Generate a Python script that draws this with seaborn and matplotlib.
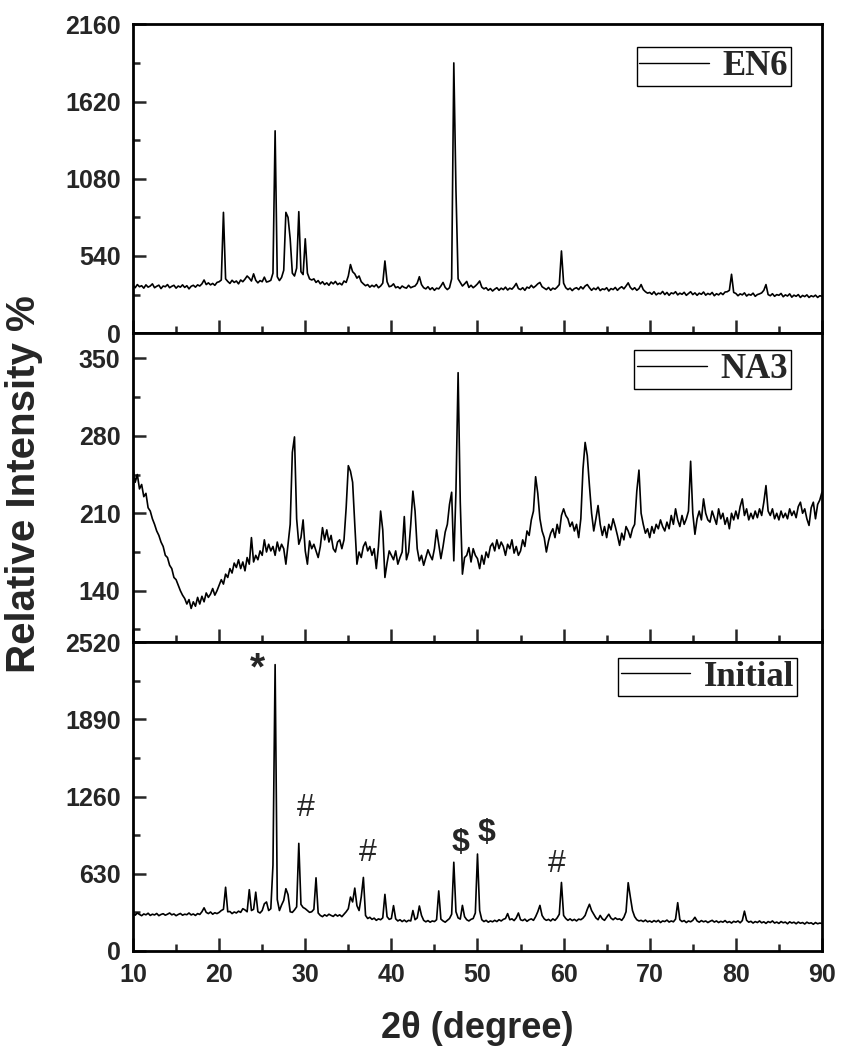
import numpy as np
import pandas as pd
import matplotlib
matplotlib.use('Agg')
import matplotlib.pyplot as plt
import seaborn as sns
from matplotlib.ticker import MultipleLocator

# --- data (0.25 deg steps, 10..90) ---
two_theta = np.linspace(10, 90, 321)

en6_counts = [
    # 10-20
    335, 318, 340, 325, 332, 315, 338, 322, 330, 345, 318, 328, 336, 312, 330, 325, 340, 318, 328, 335,
    315, 330, 322, 338, 320, 332, 310, 328, 335, 322, 338, 330, 345, 372, 340, 352, 338, 348, 335, 355,
    # 20-30
    360, 372, 845, 380, 362, 348, 370, 355, 365, 345, 372, 360, 378, 400, 385, 365, 415, 370, 352, 368,
    360, 392, 358, 362, 370, 420, 1415, 395, 368, 390, 440, 845, 810, 660, 420, 400, 455, 850, 430, 410,
    # 30-40
    660, 420, 380, 372, 380, 355, 368, 345, 360, 340, 352, 335, 358, 345, 362, 340, 350, 338, 365, 355,
    400, 480, 430, 415, 385, 400, 360, 345, 332, 340, 322, 335, 325, 340, 318, 330, 350, 505, 360, 325,
    # 40-50
    330, 345, 318, 325, 312, 330, 320, 315, 335, 318, 325, 330, 350, 395, 340, 318, 310, 325, 305, 318,
    300, 315, 310, 330, 355, 320, 305, 318, 380, 1890, 1000, 380, 355, 330, 345, 362, 320, 335, 318, 330,
    # 50-60
    345, 365, 322, 310, 318, 300, 312, 295, 308, 318, 300, 315, 305, 322, 302, 315, 308, 325, 348, 312,
    305, 318, 300, 322, 315, 335, 318, 330, 345, 355, 325, 315, 305, 320, 300, 315, 308, 322, 340, 575,
    # 60-70
    350, 318, 305, 315, 298, 312, 318, 305, 325, 310, 330, 340, 318, 300, 315, 305, 322, 298, 310, 305,
    318, 295, 312, 305, 320, 300, 315, 325, 310, 330, 352, 320, 305, 318, 300, 312, 340, 305, 290, 280,
    # 70-80
    285, 272, 290, 268, 280, 275, 292, 270, 285, 265, 282, 276, 290, 268, 280, 272, 286, 265, 278, 290,
    270, 282, 265, 280, 272, 288, 266, 278, 270, 285, 262, 276, 268, 282, 270, 288, 290, 300, 412, 285,
    # 80-90
    278, 262, 275, 268, 282, 260, 272, 266, 280, 258, 270, 275, 282, 300, 340, 270, 262, 276, 258, 270,
    265, 278, 255, 268, 260, 275, 252, 266, 258, 270, 250, 264, 256, 268, 250, 262, 255, 266, 250, 262,
    258,
]

na3_counts = [
    # 10-20
    250, 238, 245, 232, 236, 225, 228, 215, 212, 205, 200, 194, 190, 184, 180, 172, 170, 163, 160, 152,
    150, 145, 140, 136, 133, 128, 132, 124, 130, 126, 134, 128, 135, 130, 138, 134, 137, 142, 136, 140,
    # 20-30
    145, 150, 146, 155, 152, 160, 156, 165, 161, 168, 160, 166, 158, 170, 164, 188, 166, 172, 168, 176,
    172, 186, 175, 182, 176, 180, 172, 184, 176, 182, 178, 164, 182, 200, 265, 279, 205, 182, 188, 204,
    # 30-40
    176, 164, 185, 178, 182, 176, 170, 180, 197, 186, 195, 184, 190, 178, 175, 184, 186, 178, 186, 215,
    253, 248, 238, 200, 164, 175, 170, 180, 184, 176, 180, 172, 178, 160, 180, 212, 195, 152, 165, 176,
    # 40-50
    172, 168, 176, 164, 170, 175, 207, 168, 175, 200, 230, 212, 178, 167, 172, 163, 170, 177, 172, 168,
    178, 195, 182, 169, 180, 193, 200, 218, 229, 167, 230, 337, 220, 155, 170, 172, 179, 166, 178, 172,
    # 50-60
    169, 160, 172, 164, 175, 170, 180, 183, 176, 186, 178, 184, 180, 172, 182, 178, 186, 174, 180, 172,
    176, 186, 180, 194, 190, 204, 212, 243, 228, 205, 194, 188, 175, 185, 192, 196, 188, 200, 192, 208,
    # 60-70
    214, 208, 205, 198, 202, 194, 200, 188, 205, 250, 274, 262, 235, 210, 194, 205, 217, 200, 190, 198,
    188, 200, 195, 205, 198, 190, 181, 192, 186, 198, 194, 188, 196, 200, 230, 249, 210, 200, 192, 196,
    # 70-80
    188, 198, 192, 200, 196, 204, 198, 194, 202, 196, 208, 200, 214, 204, 198, 208, 200, 205, 212, 257,
    210, 191, 205, 212, 204, 223, 210, 204, 202, 212, 206, 200, 214, 205, 210, 200, 206, 196, 210, 204,
    # 80-90
    212, 205, 216, 223, 208, 214, 204, 210, 205, 212, 206, 214, 208, 220, 235, 212, 208, 214, 205, 210,
    204, 212, 206, 210, 205, 214, 208, 212, 206, 216, 220, 210, 214, 205, 199, 215, 220, 205, 218, 222,
    229,
]

initial_counts = [
    # 10-20
    305, 292, 310, 298, 288, 302, 295, 308, 290, 300, 294, 306, 288, 298, 304, 292, 300, 310, 295, 302,
    288, 298, 306, 292, 300, 296, 310, 294, 302, 290, 305, 298, 320, 352, 315, 305, 318, 300, 312, 305,
    # 20-30
    315, 330, 340, 520, 320, 322, 305, 318, 310, 325, 315, 345, 335, 320, 500, 330, 340, 480, 320, 310,
    330, 385, 400, 330, 345, 700, 2336, 420, 330, 375, 413, 508, 460, 320, 315, 335, 360, 878, 380, 355,
    # 30-40
    345, 330, 315, 320, 340, 597, 310, 290, 280, 295, 285, 300, 290, 282, 298, 285, 295, 280, 300, 320,
    345, 440, 400, 513, 370, 330, 440, 600, 290, 265, 275, 258, 268, 250, 262, 255, 270, 462, 280, 258,
    # 40-50
    265, 370, 262, 245, 255, 240, 252, 238, 250, 245, 330, 255, 270, 367, 290, 250, 238, 248, 235, 245,
    240, 255, 490, 260, 245, 235, 250, 265, 300, 724, 320, 270, 260, 372, 280, 255, 245, 258, 265, 310,
    # 50-60
    791, 330, 255, 240, 250, 235, 245, 238, 250, 240, 255, 245, 258, 265, 305, 255, 262, 248, 270, 310,
    255, 248, 260, 242, 255, 262, 250, 280, 320, 372, 290, 262, 250, 258, 245, 262, 250, 270, 300, 559,
    # 60-70
    290, 265, 250, 262, 248, 258, 245, 260, 255, 268, 290, 340, 381, 330, 300, 270, 255, 290, 262, 250,
    275, 300, 268, 255, 270, 258, 262, 250, 275, 320, 557, 440, 330, 280, 255, 245, 250, 240, 252, 238,
    # 70-80
    245, 235, 248, 238, 250, 232, 245, 240, 252, 236, 245, 238, 260, 394, 255, 240, 248, 232, 245, 238,
    250, 275, 245, 235, 248, 238, 245, 232, 242, 250, 236, 245, 232, 242, 235, 248, 232, 240, 228, 242,
    # 80-90
    235, 245, 230, 248, 325, 250, 235, 242, 228, 240, 232, 245, 230, 238, 225, 240, 232, 245, 228, 236,
    225, 240, 230, 236, 222, 238, 228, 235, 222, 236, 226, 232, 220, 235, 225, 230, 218, 232, 222, 228,
    224,
]

sample_names = ['EN6', 'NA3', 'Initial']

# phase markers on the Initial pattern
marker_labels = ['*', '#', '#', '$', '$', '#']
marker_x = [24.5, 30.0, 37.2, 48.0, 51.1, 59.2]
marker_y = [2300, 1167, 802, 883, 964, 713]

# --- style ---
sns.set_theme(style='ticks')
plt.rcParams['font.family'] = ['Liberation Sans', 'DejaVu Sans']
plt.rcParams['font.weight'] = 'bold'
plt.rcParams['axes.linewidth'] = 2.0

fig, axes = plt.subplots(3, 1, figsize=(8.5, 10.57), dpi=100, sharex=True,
                         gridspec_kw={'hspace': 0})
fig.subplots_adjust(left=0.1565, right=0.967, bottom=0.1003, top=0.977)

series = [en6_counts, na3_counts, initial_counts]
ylims = [(0, 2160), (93.6, 372.7), (0, 2520)]
majors = [540, 70, 630]
minors = [270, 35, 315]
legend_anchor = [(0.955, 0.925), (0.955, 0.945), (0.964, 0.949)]

for ax, counts, name, ylim, maj, mnr, anchor in zip(axes, series, sample_names, ylims,
                                                      majors, minors, legend_anchor):
    df = pd.DataFrame({'two_theta': two_theta, 'intensity': counts})
    sns.lineplot(data=df, x='two_theta', y='intensity', ax=ax, color='black',
                 linewidth=1.2, label=name, estimator=None)
    ax.set_xlim(10, 90)
    ax.set_ylim(*ylim)
    ax.xaxis.set_major_locator(MultipleLocator(10))
    ax.xaxis.set_minor_locator(MultipleLocator(5))
    ax.yaxis.set_major_locator(MultipleLocator(maj))
    ax.yaxis.set_minor_locator(MultipleLocator(mnr))
    ax.tick_params(axis='both', which='major', direction='in', length=9.5, width=1.8,
                   labelsize=18, pad=9, top=False, right=False)
    ax.tick_params(axis='both', which='minor', direction='in', length=5, width=1.8,
                   top=False, right=False)
    ax.set_xlabel('')
    ax.set_ylabel('')
    for s in ax.spines.values():
        s.set_visible(True)
        s.set_linewidth(2.0)
        s.set_color('black')
    leg = ax.legend(loc='upper right', bbox_to_anchor=anchor, frameon=True, fancybox=False,
                    edgecolor='black', framealpha=1, borderaxespad=0, borderpad=0.08,
                    handlelength=2.0, handletextpad=0.4,
                    prop={'family': 'Liberation Serif', 'weight': 'bold', 'size': 25})
    leg.get_frame().set_linewidth(1.0)
    for lh in leg.get_lines():
        lh.set_linewidth(1.0)

for ax in axes[:2]:
    ax.tick_params(axis='x', labelbottom=False)

axes[1].set_yticks([140, 210, 280, 350])

bottom = axes[2]
for lab, mx, my in zip(marker_labels, marker_x, marker_y):
    if lab == '#':
        bottom.text(mx, my, lab, ha='center', va='center', fontsize=23, fontweight='normal')
    elif lab == '*':
        bottom.text(mx, my, lab, ha='center', va='center', fontsize=28, fontweight='bold')
    else:
        bottom.text(mx, my, lab, ha='center', va='center', fontsize=23, fontweight='bold')

fig.text(0.028, 0.542, 'Relative Intensity %', rotation=90, ha='center', va='center',
         fontsize=29, fontweight='bold')
fig.text(0.5618, 0.0274, '2θ (degree)', ha='center', va='center', fontsize=26,
         fontweight='bold')

fig.savefig('out.png', dpi=100)
